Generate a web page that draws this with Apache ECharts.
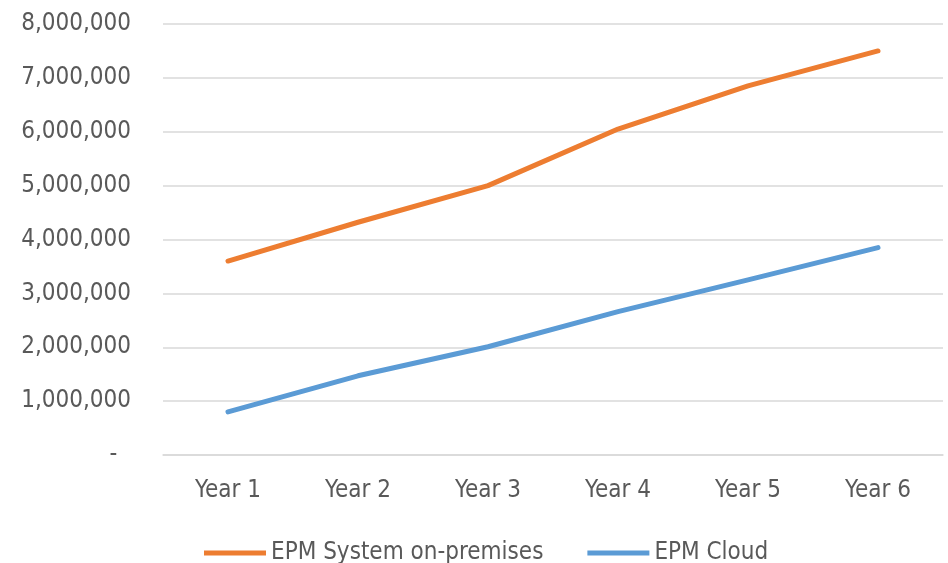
<!DOCTYPE html>
<html>
<head>
<meta charset="utf-8">
<script src="https://cdn.jsdelivr.net/npm/echarts@6/dist/echarts.min.js"></script>
<style>
html,body{margin:0;padding:0;background:#fff;}
#chart{width:948px;height:563px;}
</style>
</head>
<body>
<div id="chart"></div>
<script>
var categories = ['Year 1', 'Year 2', 'Year 3', 'Year 4', 'Year 5', 'Year 6'];
var onPremises = [3600000, 4320000, 5000000, 6050000, 6850000, 7500000];
var cloud = [800000, 1470000, 2010000, 2660000, 3250000, 3850000];
var seriesNames = ['EPM System on-premises', 'EPM Cloud'];

var FONT = '"Liberation Sans Narrow", "DejaVu Sans Condensed", "Liberation Sans", sans-serif';
var TXT = '#595959';

var chart = echarts.init(document.getElementById('chart'), null, {renderer: 'canvas'});
chart.setOption({
  animation: false,
  backgroundColor: '#ffffff',
  grid: {left: 163, right: 5, top: 24, bottom: 108, containLabel: false},
  legend: {
    data: seriesNames,
    left: 199,
    top: 536,
    icon: 'rect',
    itemWidth: 62,
    itemHeight: 5,
    itemGap: 44,
    textStyle: {fontFamily: FONT, fontSize: 24, color: TXT}
  },
  xAxis: {
    type: 'category',
    data: categories,
    boundaryGap: true,
    axisLine: {show: true, lineStyle: {color: '#D9D9D9', width: 1.5}},
    axisTick: {show: false},
    axisLabel: {fontFamily: FONT, fontSize: 24, color: TXT, margin: 24}
  },
  yAxis: {
    type: 'value',
    min: 0,
    max: 8000000,
    interval: 1000000,
    axisLine: {show: false},
    axisTick: {show: false},
    splitLine: {lineStyle: {color: '#D9D9D9', width: 1.5}},
    axisLabel: {
      fontFamily: FONT, fontSize: 24, color: TXT, margin: 32,
      formatter: function (v) { return v === 0 ? '-  ' : v.toLocaleString('en-US'); }
    }
  },
  series: [
    {
      name: seriesNames[0], type: 'line', data: onPremises,
      symbol: 'none', color: '#ED7D31',
      lineStyle: {width: 5, color: '#ED7D31', cap: 'round', join: 'round'}
    },
    {
      name: seriesNames[1], type: 'line', data: cloud,
      symbol: 'none', color: '#5B9BD5',
      lineStyle: {width: 5, color: '#5B9BD5', cap: 'round', join: 'round'}
    }
  ]
});
</script>
</body>
</html>
